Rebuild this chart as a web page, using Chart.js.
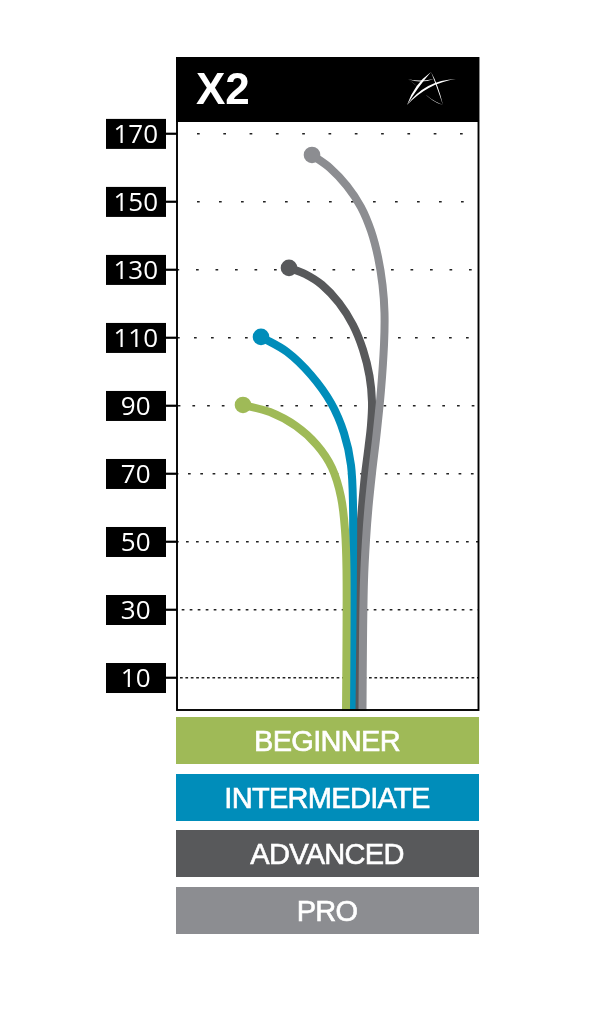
<!DOCTYPE html>
<html>
<head>
<meta charset="utf-8">
<title>X2</title>
<script src="https://cdn.jsdelivr.net/npm/chart.js@4"></script>
<style>
  html, body { margin: 0; padding: 0; background: #fff; }
  canvas { display: block; }
</style>
</head>
<body>
<canvas id="grafico" width="606" height="1024"></canvas>
<script>
const titulo = "X2";
const etiquetas = ["BEGINNER", "INTERMEDIATE", "ADVANCED", "PRO"];
const colores = ["#9fba57", "#008dba", "#58595b", "#8c8d91"];
const marcasY = [10, 30, 50, 70, 90, 110, 130, 150, 170];
// periodo y primer punto de cada linea de la grilla, de 10 a 170
const periodos = [5.4, 8, 10, 12.3, 14.7, 17, 19.5, 22, 26.3];
const inicios = [3, 4.7, 9, 11, 15.4, 17, 19, 20, 20];

// x = desvio lateral, y = distancia
const beginnerX = [66, 93, 119, 140, 155, 164, 168, 169.5, 169.5, 169];
const beginnerY = [90.3, 88.2, 84.1, 78.5, 71.8, 63.2, 53.5, 41.8, 21.2, 0.3];
const intermediateX = [84, 110, 134, 154, 167, 174, 176, 176, 175.5, 174.5];
const intermediateY = [110.3, 105.9, 99.1, 90.9, 82, 72.6, 60.9, 44.7, 27.1, 0.3];
const advancedX = [112, 128, 145, 162, 176, 186, 192.5, 195, 194, 191.5, 188, 185, 182.5, 181, 180, 179.5];
const advancedY = [130.6, 128.8, 125.6, 120.3, 113.8, 106.5, 98.8, 91.2, 84.4, 77.9, 69.7, 60.3, 50.6, 38.8, 21.2, 0.3];
const proX = [135, 153, 170, 184, 194, 201, 205.5, 207.5, 207, 204, 199.5, 195, 191.5, 189, 187, 186, 185.5];
const proY = [163.8, 160, 154.7, 148.5, 141.5, 133.8, 125.6, 117.4, 108, 94.7, 81.5, 70.3, 60.3, 50.6, 38.8, 21.2, 0.3];

const ejesX = [beginnerX, intermediateX, advancedX, proX];
const ejesY = [beginnerY, intermediateY, advancedY, proY];

// trazo del logo, mas grueso en el medio
function media(ctx, x0, y0, cx, cy, x1, y1, g) {
  ctx.beginPath();
  ctx.moveTo(x0, y0);
  ctx.quadraticCurveTo(cx, cy, x1, y1);
  ctx.quadraticCurveTo(cx + g, cy + g, x0, y0);
  ctx.fill();
}

const decoracion = {
  id: "decoracion",
  beforeDraw(chart) {
    const { ctx, chartArea: a, scales: { y } } = chart;
    ctx.save();
    // cajas negras de las marcas
    ctx.fillStyle = "#000";
    marcasY.forEach(v => {
      ctx.fillRect(a.left - 71, y.getPixelForValue(v) - 15, 60, 30);
    });
    ctx.restore();
  },
  afterDraw(chart) {
    const { ctx, chartArea: a } = chart;
    ctx.save();
    // marco
    ctx.strokeStyle = "#000";
    ctx.lineWidth = 1.9;
    ctx.strokeRect(a.left, 58, a.right - a.left - 0.5, a.bottom - 59);

    // cabecera
    ctx.fillStyle = "#000";
    ctx.fillRect(a.left - 1, 57, a.right - a.left + 1, 65);
    ctx.fillStyle = "#fff";
    ctx.font = "bold 44px 'Liberation Sans'";
    ctx.textAlign = "left";
    ctx.textBaseline = "alphabetic";
    ctx.fillText(titulo, 196, 104);

    // logo
    media(ctx, 407, 105, 414, 84, 431, 72, 3.5);
    media(ctx, 431, 72, 438, 84, 443, 105, -3.5);
    media(ctx, 443, 105, 430, 100, 421, 90, 3);
    media(ctx, 421, 90, 415, 84, 408, 79, 3);
    media(ctx, 408, 79, 420, 84, 434, 79, -2);
    media(ctx, 407, 105, 425, 80, 456, 79, 3);

    // leyenda
    const tops = [717, 774, 830, 887];
    ctx.textAlign = "center";
    ctx.textBaseline = "middle";
    ctx.font = "29px 'Liberation Sans'";
    ctx.letterSpacing = "-0.7px";
    ctx.lineWidth = 0.6;
    ctx.strokeStyle = "#fff";
    etiquetas.forEach((txt, i) => {
      ctx.fillStyle = colores[i];
      ctx.fillRect(a.left - 1, tops[i], a.right - a.left + 1, 47);
      ctx.fillStyle = "#fff";
      ctx.fillText(txt, (a.left + a.right) / 2 - 1, tops[i] + 25.5);
      ctx.strokeText(txt, (a.left + a.right) / 2 - 1, tops[i] + 25.5);
    });
    ctx.restore();
  }
};

// orden de pintado: oscuro, gris, azul, verde
const datasets = etiquetas.map((label, i) => ({
  label,
  data: ejesX[i].map((x, j) => ({ x, y: ejesY[i][j] })),
  borderColor: colores[i],
  backgroundColor: colores[i],
  borderWidth: 8,
  tension: 0.33,
  showLine: true,
  pointRadius: ctx => ctx.dataIndex === 0 ? 8.3 : 0,
  pointBorderWidth: 0,
  pointHoverRadius: 0,
  order: [0, 1, 3, 2][i]
}));

new Chart(document.getElementById("grafico"), {
  type: "scatter",
  data: { datasets },
  options: {
    responsive: false,
    animation: false,
    layout: { padding: { left: 106, right: 127, top: 122, bottom: 313 } },
    plugins: { legend: { display: false }, tooltip: { enabled: false }, title: { display: false } },
    scales: {
      x: { type: "linear", min: 0, max: 302, display: false },
      y: {
        type: "linear",
        min: 0.3,
        max: 173.5,
        afterBuildTicks: scale => { scale.ticks = marcasY.map(value => ({ value })); },
        afterFit: scale => { scale.width = 71; },
        ticks: {
          color: "#fff",
          font: { family: "'Open Sans'", size: 26 },
          crossAlign: "center",
          padding: 8,
          labelOffset: 1.5,
          autoSkip: false,
          callback: v => String(v)
        },
        grid: {
          color: "#222",
          lineWidth: 1.5,
          tickColor: "#000",
          tickLength: 11,
          tickWidth: 2.2
        },
        border: {
          display: false,
          dash: ctx => [2.7, periodos[ctx.index] - 2.7],
          dashOffset: ctx => -inicios[ctx.index]
        }
      }
    }
  },
  plugins: [decoracion]
});
</script>
</body>
</html>
